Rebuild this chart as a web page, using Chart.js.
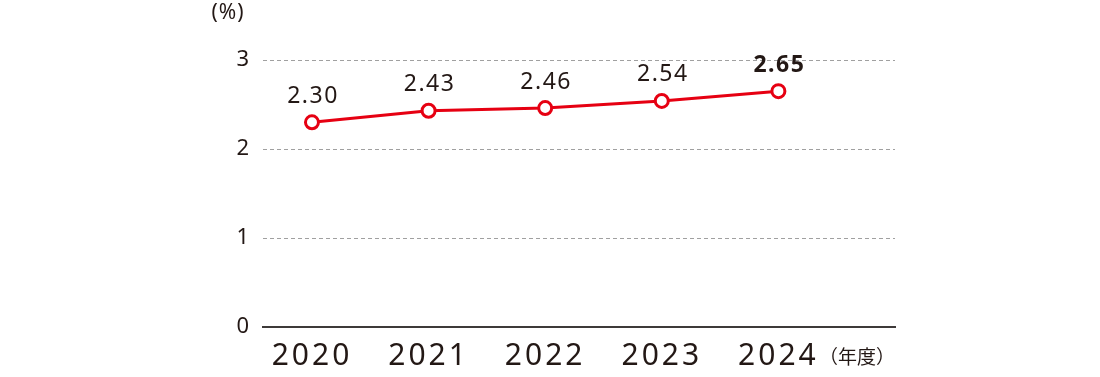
<!DOCTYPE html>
<html>
<head>
<meta charset="utf-8">
<style>
  html, body { margin: 0; padding: 0; background: #fff; }
  #wrap { width: 1100px; height: 377px; position: relative; }
</style>
<script src="https://cdn.jsdelivr.net/npm/chart.js@4.4.1/dist/chart.umd.min.js"></script>
</head>
<body>
<div id="wrap"><canvas id="chart"></canvas></div>
<script>
const years = [2020, 2021, 2022, 2023, 2024]
const rates = [2.30, 2.43, 2.46, 2.54, 2.65]
const rateLabels = ["2.30", "2.43", "2.46", "2.54", "2.65"]
const yTicks = [0, 1, 2, 3]
const unitY = "(%)"
const unitX = "（年度）"

const ink = "#231815"
const red = "#e60012"

// value labels above the points + unit captions
const textPlugin = {
  id: "texts",
  beforeDraw(chart) {
    chart.ctx.letterSpacing = "3px"
  },
  afterDatasetsDraw(chart) {
    const ctx = chart.ctx
    const pts = chart.getDatasetMeta(0).data
    ctx.save()
    ctx.fillStyle = ink
    ctx.textAlign = "center"
    ctx.textBaseline = "middle"
    pts.forEach((pt, i) => {
      const last = i === pts.length - 1
      ctx.font = (last ? "bold " : "") + "23px 'Noto Sans', sans-serif"
      ctx.letterSpacing = last ? "1.5px" : "1.5px"
      ctx.fillText(rateLabels[i], pt.x + 1, pt.y - 26)
    })
    ctx.letterSpacing = "1px"
    ctx.font = "21px 'Noto Sans', sans-serif"
    ctx.fillText(unitY, 228, 13)
    ctx.letterSpacing = "0px"
    ctx.textAlign = "left"
    ctx.font = "19px 'Noto Sans CJK JP', sans-serif"
    ctx.fillText(unitX, 819, 357)
    ctx.restore()
  }
}

new Chart(document.getElementById("chart").getContext("2d"), {
  type: "line",
  data: {
    datasets: [
      {
        data: years.map((y, i) => ({x: y, y: rates[i]})),
        borderColor: red,
        borderWidth: 3,
        pointRadius: 6.5,
        pointBorderWidth: 3,
        pointBackgroundColor: "#fff",
        pointBorderColor: red,
        clip: false,
        tension: 0,
      },
    ],
  },
  options: {
    responsive: true,
    maintainAspectRatio: false,
    animation: false,
    events: [],
    layout: {padding: {top: 60, right: 205, left: 0, bottom: 0}},
    plugins: {legend: {display: false}, tooltip: {enabled: false}},
    scales: {
      x: {
        type: "linear",
        min: 2019.58,
        max: 2025,
        afterBuildTicks: (s) => { s.ticks = years.map((v) => ({value: v})) },
        afterFit: (s) => { s.height = 50 },
        grid: {display: false, drawTicks: false},
        border: {display: true, color: "#3e3a39", width: 2},
        ticks: {
          color: ink,
          padding: 11,
          maxRotation: 0,
          autoSkip: false,
          font: {family: "'Noto Sans', sans-serif", size: 30},
          callback: (v) => String(v),
        },
      },
      y: {
        min: 0,
        max: 3,
        afterBuildTicks: (s) => { s.ticks = yTicks.map((v) => ({value: v})) },
        afterFit: (s) => { s.width = 263 },
        grid: {
          drawTicks: false,
          color: (c) => (c.tick && c.tick.value === 0 ? "rgba(0,0,0,0)" : "#a0a0a0"),
          lineWidth: 1,
        },
        border: {display: false, dash: [4, 3]},
        ticks: {
          color: ink,
          padding: 11,
          font: {family: "'Noto Sans', sans-serif", size: 22},
        },
      },
    },
  },
  plugins: [textPlugin],
})
</script>
</body>
</html>
